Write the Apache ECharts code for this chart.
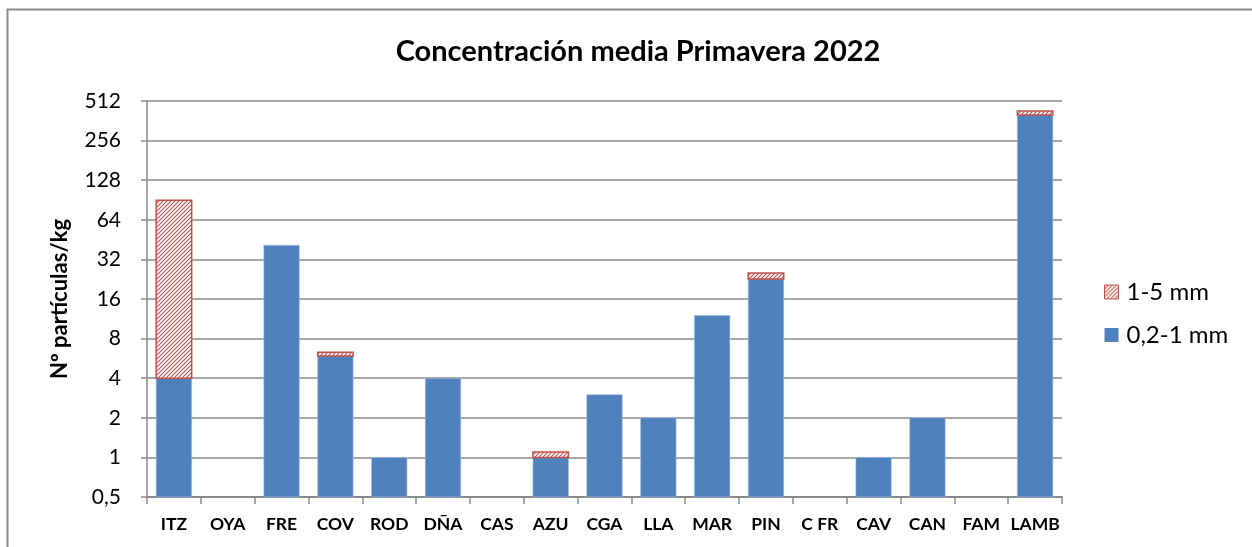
<!DOCTYPE html>
<html>
<head>
<meta charset="utf-8">
<script src="https://cdn.jsdelivr.net/npm/echarts@6/dist/echarts.min.js"></script>
<style>
  html, body { margin: 0; padding: 0; background: #fff; }
  #chart { width: 1252px; height: 547px; }
</style>
</head>
<body>
<div id="chart"></div>
<script>
// Data
const categories = ['ITZ', 'OYA', 'FRE', 'COV', 'ROD', 'DÑA', 'CAS', 'AZU', 'CGA', 'LLA', 'MAR', 'PIN', 'C FR', 'CAV', 'CAN', 'FAM', 'LAMB'];
const fine = [4, 0, 41, 5.9, 1, 4, 0, 1, 3, 2, 12, 22.7, 0, 1, 2, 0, 400];     // 0,2-1 mm
const coarse = [86, 0, 0, 0.4, 0, 0, 0, 0.1, 0, 0, 0, 2.5, 0, 0, 0, 0, 30];   // 1-5 mm
const yTicks = [0.5, 1, 2, 4, 8, 16, 32, 64, 128, 256, 512];

const Y_MIN = yTicks[0];
const Y_MAX = yTicks[yTicks.length - 1];
const BLUE = '#4F81BD';
const RED = '#C0504D';
const GRID_GRAY = '#8a8a8a';
const FONT = 'Lato, "Open Sans", sans-serif';

// Hatch pattern for the 1-5 mm series
function makeHatch() {
  const c = document.createElement('canvas');
  const s = 4;
  c.width = s; c.height = s;
  const ctx = c.getContext('2d');
  ctx.fillStyle = '#fff';
  ctx.fillRect(0, 0, s, s);
  ctx.strokeStyle = RED;
  ctx.lineWidth = 1.1;
  for (const off of [-s, 0, s]) {
    ctx.beginPath();
    ctx.moveTo(off - 1, s + 1);
    ctx.lineTo(off + s + 1, -1);
    ctx.stroke();
  }
  return { image: c, repeat: 'repeat' };
}
const hatch = makeHatch();

const chart = echarts.init(document.getElementById('chart'));

function barRect(api, lo, hi, style) {
  const x = api.value(0);
  const p1 = api.coord([x, hi]);
  const p0 = api.coord([x, lo]);
  const w = api.size([1, 0])[0] * 0.66;
  return {
    type: 'rect',
    shape: { x: p1[0] - w / 2, y: p1[1], width: w, height: p0[1] - p1[1] },
    style: style
  };
}

const fineData = fine.map((v, i) => [i, v]);
const coarseData = coarse.map((v, i) => [i, fine[i], fine[i] + v]);

chart.setOption({
  animation: false,
  backgroundColor: '#fff',
  graphic: [{
    type: 'rect',
    shape: { x: 7.5, y: 9.5, width: 1300, height: 600 },
    style: { fill: 'none', stroke: GRID_GRAY, lineWidth: 2 },
    silent: true
  }],
  title: {
    text: 'Concentración media Primavera 2022',
    left: 633, top: 32, textAlign: 'center',
    textStyle: { fontFamily: FONT, fontWeight: 'bold', fontSize: 29, color: '#000' }
  },
  legend: {
    orient: 'vertical',
    left: 1099, top: 275,
    itemWidth: 14, itemHeight: 14, itemGap: 19,
    textStyle: { fontFamily: FONT, fontSize: 24, color: '#000', padding: [0, 0, 0, 3] },
    data: [
      { name: '1-5 mm', icon: 'rect', itemStyle: { color: hatch, borderColor: RED, borderWidth: 1 } },
      { name: '0,2-1 mm', icon: 'rect', itemStyle: { color: BLUE } }
    ]
  },
  grid: { left: 147, right: 190, top: 101, bottom: 50 },
  xAxis: {
    type: 'category',
    data: categories,
    boundaryGap: true,
    axisLine: { lineStyle: { color: GRID_GRAY, width: 2 } },
    axisTick: { show: true, interval: 0, length: 7, lineStyle: { color: GRID_GRAY, width: 1.5 } },
    axisLabel: { interval: 0, margin: 18, fontFamily: FONT, fontWeight: 'bold', fontSize: 17.5, color: '#000' }
  },
  yAxis: {
    type: 'log',
    logBase: 2,
    min: Y_MIN, max: Y_MAX,
    interval: 1,
    splitNumber: yTicks.length - 1,
    name: 'Nº partículas/kg',
    nameLocation: 'middle',
    nameGap: 76,
    nameTextStyle: { fontFamily: FONT, fontWeight: 'bold', fontSize: 22, color: '#000' },
    axisLine: { show: true, lineStyle: { color: GRID_GRAY, width: 1.5 } },
    axisTick: { show: true, length: 6, customValues: yTicks, lineStyle: { color: GRID_GRAY, width: 1.5 } },
    axisLabel: {
      margin: 26,
      customValues: yTicks,
      fontFamily: FONT, fontSize: 21, color: '#000',
      formatter: v => String(v).replace('.', ',')
    },
    splitLine: { show: true, lineStyle: { color: GRID_GRAY, width: 1.5 } }
  },
  series: [
    {
      name: '0,2-1 mm',
      type: 'custom',
      data: fineData,
      encode: { x: 0, y: 1 },
      itemStyle: { color: BLUE },
      renderItem: (params, api) => {
        const v = api.value(1);
        if (!v) return null;
        return barRect(api, Y_MIN, v, { fill: BLUE, stroke: '#a9c1e0', lineWidth: 0.6 });
      }
    },
    {
      name: '1-5 mm',
      type: 'custom',
      data: coarseData,
      encode: { x: 0, y: [1, 2] },
      itemStyle: { color: RED },
      renderItem: (params, api) => {
        const lo = api.value(1), hi = api.value(2);
        if (!(hi > lo)) return null;
        return barRect(api, lo > 0 ? lo : Y_MIN, hi, { fill: hatch, stroke: RED, lineWidth: 1.5 });
      }
    }
  ]
});
</script>
</body>
</html>
